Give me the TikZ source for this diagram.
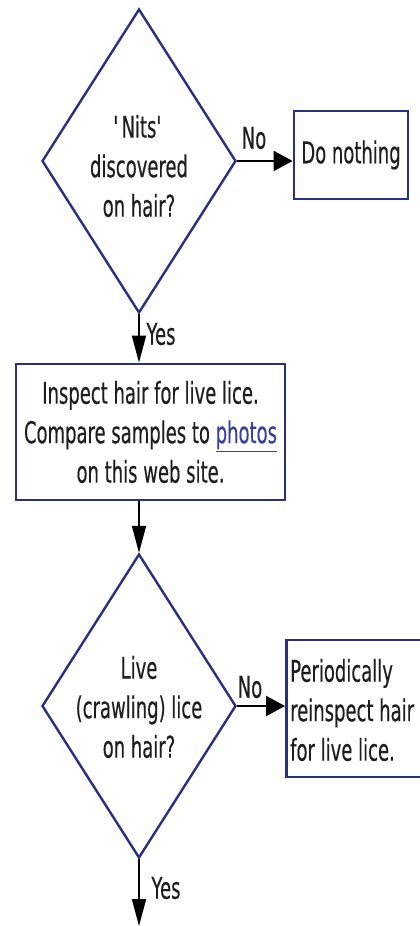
\documentclass[tikz,border=0pt]{standalone}
\usepackage{fontspec}
\setmainfont{DejaVu Sans}[FakeStretch=0.6,FakeBold=0.3]
\usetikzlibrary{shapes.geometric,arrows.meta}
\definecolor{navy}{HTML}{2B2F80}
\definecolor{txt}{HTML}{1E1E1E}
\definecolor{linkc}{HTML}{3A3F9A}
\tikzset{
  every node/.style={text=txt,font=\fontsize{30}{39.5}\selectfont},
  decision/.style={shape=diamond,draw=navy,line width=2.4pt,inner sep=0pt,
    minimum width=194pt,minimum height=304pt},
  stepbox/.style={draw=navy,line width=2.8pt,inner sep=0pt,align=center},
  hflow/.style={draw=black,line width=2.2pt,-{Triangle[length=19pt,width=20pt]}},
  vflow/.style={draw=black,line width=1.8pt,-{Triangle[length=27pt,width=14pt]}},
  lbl/.style={inner sep=0pt},
  dtext/.style={align=center,inner sep=0pt}
}
\begin{document}
\begin{tikzpicture}[x=1pt,y=-1pt]
\useasboundingbox (0,0) rectangle (420,926);
\clip (0,0) rectangle (420,926);
\fill[white] (0,0) rectangle (420,926);
\node[decision] (d1) at (139,161) {};
\node[dtext] (t1) at (139,166) {\textquotesingle Nits\textquotesingle\\discovered\\on hair?};
\node[stepbox,minimum width=114pt,minimum height=88pt] (b1) at (351,155) {Do nothing};
\node[stepbox,minimum width=269pt,minimum height=136pt] (b2) at (150.5,432)
  {Inspect hair for live lice.\\Compare samples to {\color{linkc}\underline{photos}}\\on this web site.};
\node[decision] (d2) at (139,706) {};
\node[dtext] (t2) at (139,707) {Live\\(crawling) lice\\on hair?};
\node[stepbox,anchor=west,minimum width=160pt,minimum height=137pt] (b3) at (285,708.5) {};
\node[dtext,anchor=west,align=left] (t3) at (290,710)
  {Periodically\\reinspect hair\\for live lice.};
\coordinate (end) at (139,926);
\draw[hflow] (d1.east) -- (b1.west |- d1.east);
\draw[vflow] (d1.south) -- (b2.north -| d1.south);
\draw[vflow] (b2.south -| d2.north) -- (d2.north);
\draw[hflow] (d2.east) -- (b3.west |- d2.east);
\draw[vflow] (d2.south) -- (end);
\node[lbl] (n1) at (254,138) {No};
\node[lbl] (y1) at (161,334) {Yes};
\node[lbl] (n2) at (250,687) {No};
\node[lbl] (y2) at (166,888) {Yes};
\end{tikzpicture}
\end{document}
